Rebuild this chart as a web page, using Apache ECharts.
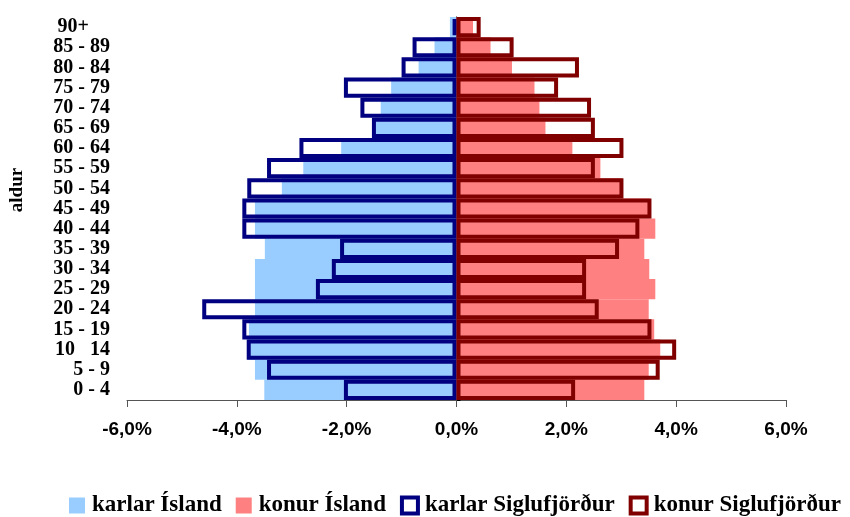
<!DOCTYPE html>
<html>
<head>
<meta charset="utf-8">
<script src="https://cdn.jsdelivr.net/npm/echarts@6/dist/echarts.min.js"></script>
<style>
html, body { margin: 0; padding: 0; background: #fff; }
#chart { width: 850px; height: 517px; }
</style>
</head>
<body>
<div id="chart"></div>
<script>
// aldursflokkar, neðst upp
const categories = ['0 - 4', '5 - 9', '10   14', '15 - 19', '20 - 24', '25 - 29', '30 - 34',
  '35 - 39', '40 - 44', '45 - 49', '50 - 54', '55 - 59', '60 - 64', '65 - 69',
  '70 - 74', '75 - 79', '80 - 84', '85 - 89', '90+'];

// hlutfall af mannfjölda, %
const karlarIsland = [3.5, 3.67, 3.8, 3.78, 3.67, 3.67, 3.67, 3.49, 3.67, 3.67,
  3.18, 2.79, 2.1, 1.49, 1.38, 1.19, 0.69, 0.4, 0.12];
const konurIsland = [3.42, 3.5, 3.71, 3.6, 3.5, 3.62, 3.51, 3.42, 3.62, 3.52,
  3.0, 2.62, 2.11, 1.62, 1.51, 1.42, 1.01, 0.62, 0.3];
const karlarSiglo = [2.05, 3.45, 3.82, 3.9, 4.63, 2.56, 2.27, 2.12, 3.9, 3.9,
  3.81, 3.45, 2.86, 1.54, 1.75, 2.05, 1.0, 0.8, 0.07];
const konurSiglo = [2.16, 3.7, 4.0, 3.55, 2.59, 2.36, 2.36, 2.96, 3.33, 3.55,
  3.04, 2.52, 3.04, 2.52, 2.45, 1.85, 2.23, 1.04, 0.44];

const xTicks = { min: -6, max: 6, step: 2 };

const serif = '"Liberation Serif", "Times New Roman", serif';
const sans = '"Liberation Sans", Arial, sans-serif';

let chart = echarts.init(document.getElementById('chart'));

const neg = arr => arr.map(v => -v);

const option = {
  animation: false,
  backgroundColor: '#fff',
  grid: {
    left: 127,
    right: 64,
    top: 17,
    bottom: 117,
    containLabel: false,
    outerBoundsMode: 'none'
  },
  xAxis: {
    type: 'value',
    min: xTicks.min,
    max: xTicks.max,
    interval: xTicks.step,
    splitLine: { show: false },
    axisLine: { show: true, onZero: false, lineStyle: { color: '#555', width: 1 } },
    axisTick: { show: true, length: 7, lineStyle: { color: '#555' } },
    axisLabel: {
      margin: 20,
      fontFamily: sans,
      fontWeight: 'bold',
      fontSize: 19,
      color: '#000',
      formatter: v => v.toFixed(1).replace('.', ',') + '%'
    }
  },
  yAxis: [
    {
      type: 'category',
      data: categories,
      axisLine: { show: false, onZero: false },
      axisTick: { show: false },
      axisLabel: {
        interval: 0,
        margin: 17,
        fontFamily: serif,
        fontWeight: 'bold',
        fontSize: 20,
        color: '#000',
        formatter: v => v === '90+' ? '{p|' + v + '}' : v,
        rich: {
          p: {
            fontFamily: serif,
            fontWeight: 'bold',
            fontSize: 20,
            color: '#000',
            padding: [0, 21, 0, 0]
          }
        }
      }
    },
    {
      type: 'category',
      data: categories,
      axisLine: { show: true, onZero: true, lineStyle: { color: '#000', width: 1 } },
      axisTick: { show: true, length: 4, lineStyle: { color: '#000' } },
      axisLabel: { show: false }
    }
  ],
  legend: {
    left: 69,
    top: 494,
    padding: 0,
    itemWidth: 16,
    itemHeight: 16,
    itemGap: 14,
    textStyle: { fontFamily: serif, fontWeight: 'bold', fontSize: 23, color: '#000', padding: [0, 0, 0, 2] },
    data: [
      { name: 'karlar Ísland', icon: 'rect', itemStyle: { color: '#99CCFF', borderWidth: 0 } },
      { name: 'konur Ísland', icon: 'rect', itemStyle: { color: '#FF8080', borderWidth: 0 } },
      { name: 'karlar Siglufjörður', icon: 'rect', itemStyle: { color: '#fff', borderColor: '#000080', borderWidth: 4 } },
      { name: 'konur Siglufjörður', icon: 'rect', itemStyle: { color: '#fff', borderColor: '#800000', borderWidth: 4 } }
    ]
  },
  graphic: [
    {
      type: 'text',
      x: 17,
      y: 190,
      rotation: Math.PI / 2,
      style: {
        text: 'aldur',
        fontFamily: serif,
        fontWeight: 'bold',
        fontSize: 19,
        fill: '#000',
        align: 'center',
        verticalAlign: 'middle'
      }
    }
  ],
  series: [
    {
      name: 'karlar Ísland',
      type: 'bar',
      yAxisIndex: 0,
      data: neg(karlarIsland),
      barGap: '-100%',
      barCategoryGap: 0,
      itemStyle: { color: '#99CCFF' }
    },
    {
      name: 'konur Ísland',
      type: 'bar',
      yAxisIndex: 0,
      data: konurIsland,
      barGap: '-100%',
      barCategoryGap: 0,
      itemStyle: { color: '#FF8080' }
    },
    {
      name: 'karlar Siglufjörður',
      type: 'bar',
      yAxisIndex: 0,
      data: neg(karlarSiglo),
      barGap: '-100%',
      barCategoryGap: 0,
      itemStyle: { color: 'rgba(0,0,0,0)', borderColor: '#000080', borderWidth: 4 }
    },
    {
      name: 'konur Siglufjörður',
      type: 'bar',
      yAxisIndex: 0,
      data: konurSiglo,
      barGap: '-100%',
      barCategoryGap: 0,
      itemStyle: { color: 'rgba(0,0,0,0)', borderColor: '#800000', borderWidth: 4 }
    }
  ]
};

chart.setOption(option);
</script>
</body>
</html>
